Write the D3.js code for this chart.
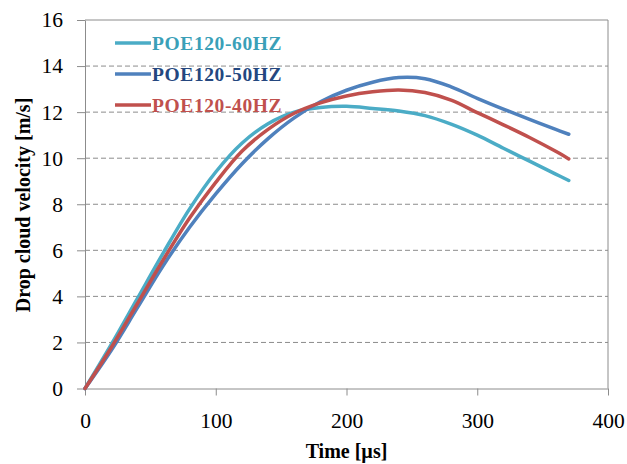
<!DOCTYPE html>
<html>
<head>
<meta charset="utf-8">
<script src="https://cdn.jsdelivr.net/npm/d3@7"></script>
<style>
  body { margin: 0; background: #fff; }
  text { font-family: "Liberation Serif", "Times New Roman", serif; }
</style>
</head>
<body>
<div id="chart"></div>
<script>
// time [µs]
const times = [0, 20, 40, 60, 80, 100, 120, 140, 160, 180, 200, 220, 240, 260, 280, 300, 320, 340, 360, 370];
// drop cloud velocity [m/s]
const poe60 = [0, 1.9, 3.9, 5.9, 7.8, 9.4, 10.65, 11.5, 12.0, 12.2, 12.25, 12.16, 12.05, 11.85, 11.48, 11.0, 10.43, 9.87, 9.31, 9.03];
const poe50 = [0, 1.65, 3.5, 5.35, 7.0, 8.45, 9.75, 10.85, 11.75, 12.45, 12.95, 13.3, 13.5, 13.45, 13.1, 12.6, 12.13, 11.68, 11.25, 11.04];
const poe40 = [0, 1.77, 3.68, 5.6, 7.4, 8.95, 10.3, 11.25, 11.95, 12.4, 12.7, 12.88, 12.96, 12.85, 12.52, 11.98, 11.45, 10.9, 10.3, 9.97];
const seriesNames = ["POE120-60HZ", "POE120-50HZ", "POE120-40HZ"];
const xTicks = [0, 100, 200, 300, 400];
const yTicks = [0, 2, 4, 6, 8, 10, 12, 14, 16];

const lineColors = ["#4bacc6", "#4f81bd", "#c0504d"];
const textColors = ["#3aa0b8", "#24477f", "#c0504d"];

const width = 627, height = 464;
const margin = {top: 20, right: 19, bottom: 75.5, left: 85};
const w = width - margin.left - margin.right;
const h = height - margin.top - margin.bottom;

const svg = d3.select("#chart").append("svg")
    .attr("width", width)
    .attr("height", height);

const g = svg.append("g")
    .attr("transform", "translate(" + margin.left + "," + margin.top + ")");

const xScale = d3.scaleLinear().domain([0, 400]).range([0, w]);
const yScale = d3.scaleLinear().domain([0, 16]).range([h, 0]);

// dashed gridlines
g.selectAll(".grid")
    .data(yTicks.filter(d => d > 0 && d < 16))
    .join("line")
    .attr("class", "grid")
    .attr("x1", 0).attr("x2", w)
    .attr("y1", d => yScale(d)).attr("y2", d => yScale(d))
    .attr("stroke", "#8c8c8c")
    .attr("stroke-width", 1)
    .attr("stroke-dasharray", "5,3");

// plot frame (top and right)
g.append("line").attr("x1", 0).attr("x2", w).attr("y1", 0).attr("y2", 0)
    .attr("stroke", "#8c8c8c");
g.append("line").attr("x1", w).attr("x2", w).attr("y1", 0).attr("y2", h)
    .attr("stroke", "#8c8c8c");

// axes
const xAxisG = g.append("g")
    .attr("transform", "translate(0," + h + ")")
    .call(d3.axisBottom(xScale).tickValues(xTicks).tickSizeInner(7).tickSizeOuter(0).tickPadding(17));
const yAxisG = g.append("g")
    .call(d3.axisLeft(yScale).tickValues(yTicks).tickSizeInner(8).tickSizeOuter(0).tickPadding(14));

[xAxisG, yAxisG].forEach(ax => {
    ax.select(".domain").attr("stroke", "#8c8c8c");
    ax.selectAll(".tick line").attr("stroke", "#8c8c8c");
    ax.selectAll(".tick text")
        .attr("font-family", "Liberation Serif, Times New Roman, serif")
        .attr("font-size", 21.5)
        .attr("fill", "#000");
});

// axis titles
svg.append("text")
    .attr("x", margin.left + w / 2)
    .attr("y", 458)
    .attr("text-anchor", "middle")
    .attr("font-size", 20)
    .attr("font-weight", "bold")
    .text("Time [µs]");

svg.append("text")
    .attr("transform", "rotate(-90)")
    .attr("x", -205)
    .attr("y", 30)
    .attr("text-anchor", "middle")
    .attr("font-size", 20)
    .attr("font-weight", "bold")
    .text("Drop cloud velocity [m/s]");

// curves
const allSeries = [poe60, poe50, poe40];
const line = d3.line()
    .x((d, i) => xScale(times[i]))
    .y(d => yScale(d))
    .curve(d3.curveCatmullRom.alpha(0.5));

g.selectAll(".seriesLine")
    .data(allSeries)
    .join("path")
    .attr("class", "seriesLine")
    .attr("fill", "none")
    .attr("stroke", (d, i) => lineColors[i])
    .attr("stroke-width", 3.5)
    .attr("stroke-linecap", "round")
    .attr("d", line);

// legend
const legend = svg.append("g").attr("transform", "translate(115,43)");
const legendItem = legend.selectAll(".legendItem")
    .data(seriesNames)
    .join("g")
    .attr("class", "legendItem")
    .attr("transform", (d, i) => "translate(0," + (i * 31) + ")");
legendItem.append("line")
    .attr("x1", 0).attr("x2", 36)
    .attr("stroke", (d, i) => lineColors[i])
    .attr("stroke-width", 3.5);
legendItem.append("text")
    .attr("x", 37)
    .attr("y", 6.5)
    .attr("font-size", 19.5)
    .attr("font-weight", "bold")
    .attr("letter-spacing", 0.6)
    .attr("fill", (d, i) => textColors[i])
    .text(d => d);
</script>
</body>
</html>
